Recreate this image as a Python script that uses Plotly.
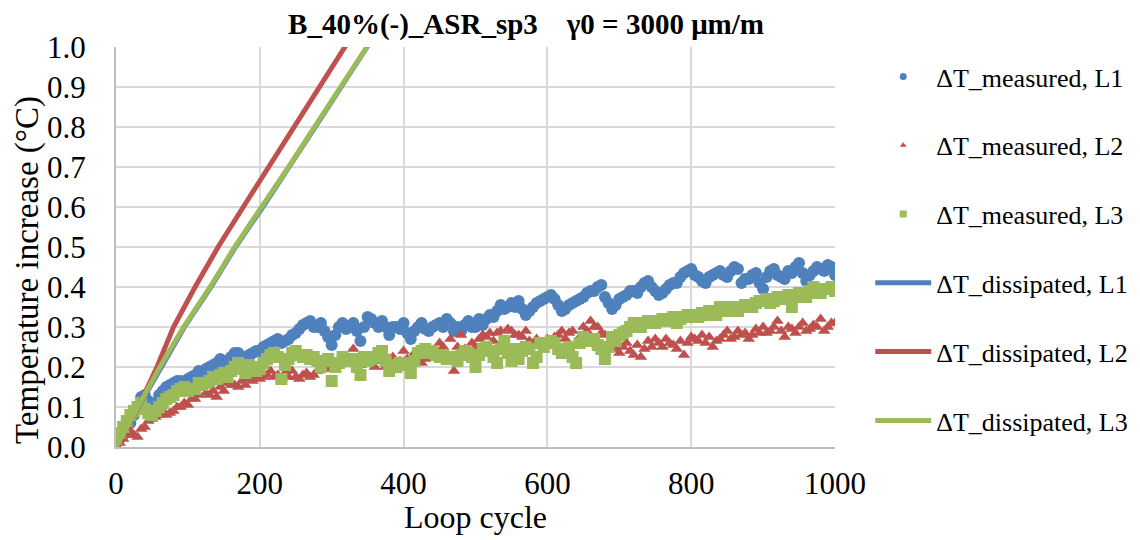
import plotly.graph_objects as go

cycles_a = list(range(0, 1001, 10))
cycles_b = list(range(5, 1000, 10))

meas_L1_a = [0.01, 0.03, 0.06, 0.10, 0.13, 0.105, 0.13, 0.15, 0.16, 0.165,
             0.17, 0.18, 0.185, 0.20, 0.21, 0.215, 0.225, 0.235, 0.225, 0.235,
             0.24, 0.255, 0.265, 0.26, 0.27, 0.285, 0.305, 0.315, 0.30, 0.29,
             0.255, 0.30, 0.295, 0.31, 0.265, 0.325, 0.31, 0.315, 0.28, 0.30,
             0.31, 0.27, 0.30, 0.295, 0.30, 0.31, 0.32, 0.29, 0.29, 0.315,
             0.30, 0.305, 0.33, 0.34, 0.345, 0.36, 0.365, 0.33, 0.35, 0.365,
             0.375, 0.37, 0.34, 0.355, 0.365, 0.375, 0.39, 0.40, 0.375, 0.345,
             0.37, 0.38, 0.39, 0.40, 0.415, 0.39, 0.385, 0.405, 0.41, 0.435,
             0.445, 0.425, 0.41, 0.43, 0.44, 0.425, 0.45, 0.41, 0.42, 0.435,
             0.395, 0.44, 0.43, 0.42, 0.435, 0.46, 0.415, 0.44, 0.445, 0.455,
             0.43]
meas_L1_b = [0.02, 0.045, 0.08, 0.125, 0.115, 0.11, 0.14, 0.155, 0.165, 0.16,
             0.175, 0.19, 0.195, 0.205, 0.22, 0.21, 0.235, 0.225, 0.23, 0.24,
             0.25, 0.26, 0.27, 0.265, 0.28, 0.295, 0.31, 0.30, 0.31, 0.275,
             0.28, 0.31, 0.30, 0.29, 0.30, 0.32, 0.30, 0.30, 0.30, 0.295,
             0.285, 0.29, 0.31, 0.29, 0.305, 0.30, 0.31, 0.30, 0.305, 0.30,
             0.32, 0.32, 0.325, 0.355, 0.35, 0.35, 0.345, 0.34, 0.36, 0.37,
             0.38, 0.355, 0.345, 0.36, 0.37, 0.385, 0.39, 0.405, 0.36, 0.355,
             0.375, 0.39, 0.385, 0.41, 0.40, 0.38, 0.395, 0.41, 0.425, 0.44,
             0.43, 0.415, 0.425, 0.435, 0.43, 0.44, 0.445, 0.42, 0.43, 0.41,
             0.425, 0.445, 0.425, 0.44, 0.45, 0.435, 0.43, 0.45, 0.44, 0.45]

meas_L2_a = [0.005, 0.02, 0.04, 0.025, 0.05, 0.07, 0.08, 0.08, 0.09, 0.10,
             0.105, 0.12, 0.16, 0.13, 0.125, 0.14, 0.155, 0.15, 0.155, 0.165,
             0.17, 0.18, 0.175, 0.17, 0.175, 0.175, 0.18, 0.175, 0.19, 0.195,
             0.20, 0.21, 0.215, 0.245, 0.205, 0.21, 0.20, 0.215, 0.22, 0.21,
             0.24, 0.215, 0.225, 0.22, 0.225, 0.26, 0.23, 0.19, 0.28, 0.245,
             0.25, 0.28, 0.285, 0.285, 0.265, 0.29, 0.28, 0.29, 0.255, 0.26,
             0.27, 0.275, 0.29, 0.285, 0.26, 0.30, 0.315, 0.30, 0.28, 0.25,
             0.235, 0.26, 0.23, 0.225, 0.265, 0.27, 0.25, 0.26, 0.245, 0.23,
             0.275, 0.265, 0.26, 0.25, 0.27, 0.29, 0.275, 0.28, 0.27, 0.295,
             0.30, 0.29, 0.315, 0.275, 0.295, 0.30, 0.29, 0.305, 0.32, 0.30,
             0.31]
meas_L2_b = [0.01, 0.03, 0.03, 0.045, 0.065, 0.075, 0.09, 0.085, 0.10, 0.11,
             0.12, 0.13, 0.135, 0.14, 0.15, 0.16, 0.155, 0.165, 0.17, 0.175,
             0.175, 0.19, 0.18, 0.185, 0.19, 0.17, 0.185, 0.18, 0.20, 0.205,
             0.195, 0.22, 0.21, 0.22, 0.215, 0.225, 0.215, 0.20, 0.225, 0.215,
             0.22, 0.235, 0.21, 0.235, 0.24, 0.25, 0.27, 0.25, 0.245, 0.26,
             0.27, 0.275, 0.265, 0.29, 0.295, 0.28, 0.275, 0.265, 0.27, 0.255,
             0.265, 0.28, 0.27, 0.29, 0.275, 0.29, 0.30, 0.285, 0.26, 0.245,
             0.25, 0.24, 0.255, 0.245, 0.25, 0.26, 0.27, 0.255, 0.265, 0.26,
             0.27, 0.28, 0.275, 0.265, 0.28, 0.27, 0.29, 0.285, 0.28, 0.285,
             0.285, 0.30, 0.29, 0.30, 0.285, 0.31, 0.295, 0.30, 0.29, 0.31]

meas_L3_a = [0.02, 0.05, 0.08, 0.10, 0.095, 0.08, 0.10, 0.12, 0.13, 0.145,
             0.14, 0.145, 0.155, 0.165, 0.17, 0.185, 0.19, 0.21, 0.185, 0.20,
             0.195, 0.22, 0.235, 0.17, 0.22, 0.24, 0.225, 0.22, 0.215, 0.215,
             0.165, 0.21, 0.22, 0.22, 0.18, 0.215, 0.225, 0.24, 0.19, 0.20,
             0.21, 0.185, 0.235, 0.245, 0.24, 0.225, 0.22, 0.225, 0.23, 0.235,
             0.20, 0.245, 0.24, 0.21, 0.265, 0.215, 0.22, 0.25, 0.21, 0.26,
             0.26, 0.26, 0.235, 0.25, 0.21, 0.275, 0.27, 0.255, 0.22, 0.275,
             0.28, 0.29, 0.31, 0.30, 0.315, 0.31, 0.32, 0.315, 0.31, 0.325,
             0.33, 0.325, 0.33, 0.335, 0.35, 0.34, 0.345, 0.35, 0.355, 0.36,
             0.365, 0.36, 0.375, 0.37, 0.35, 0.385, 0.375, 0.40, 0.385, 0.395,
             0.39]
meas_L3_b = [0.035, 0.065, 0.09, 0.11, 0.085, 0.09, 0.11, 0.125, 0.14, 0.15,
             0.145, 0.16, 0.16, 0.175, 0.18, 0.175, 0.20, 0.195, 0.205, 0.19,
             0.21, 0.23, 0.225, 0.205, 0.235, 0.23, 0.23, 0.225, 0.20, 0.22,
             0.20, 0.225, 0.215, 0.20, 0.225, 0.22, 0.235, 0.215, 0.205, 0.21,
             0.205, 0.215, 0.24, 0.235, 0.23, 0.23, 0.225, 0.215, 0.24, 0.225,
             0.23, 0.25, 0.225, 0.245, 0.235, 0.245, 0.24, 0.245, 0.225, 0.25,
             0.265, 0.245, 0.245, 0.225, 0.26, 0.265, 0.27, 0.245, 0.25, 0.265,
             0.285, 0.30, 0.305, 0.31, 0.31, 0.315, 0.32, 0.325, 0.32, 0.33,
             0.325, 0.335, 0.34, 0.33, 0.345, 0.35, 0.34, 0.355, 0.35, 0.365,
             0.37, 0.365, 0.37, 0.38, 0.375, 0.38, 0.39, 0.385, 0.395, 0.40]

diss_L1_x = [0, 32, 63, 96, 133, 167, 205, 242, 278, 314, 350, 368]
diss_L1_y = [0, 0.1, 0.2, 0.3, 0.4, 0.5, 0.6, 0.7, 0.8, 0.9, 1.0, 1.05]
diss_L2_x = [0, 31, 57, 80, 110, 142, 177, 212, 247, 282, 318, 336]
diss_L2_y = [0, 0.1, 0.2, 0.3, 0.4, 0.5, 0.6, 0.7, 0.8, 0.9, 1.0, 1.05]
diss_L3_x = [0, 31, 61, 94, 131, 165, 203, 240, 276, 312, 349, 367]
diss_L3_y = [0, 0.1, 0.2, 0.3, 0.4, 0.5, 0.6, 0.7, 0.8, 0.9, 1.0, 1.05]

BLUE = "#4F81BD"
RED = "#C0504D"
GREEN = "#9BBB59"
FONT = "Liberation Serif"

cycles = cycles_a + cycles_b

fig = go.Figure()

fig.add_trace(go.Scatter(x=cycles, y=meas_L1_a + meas_L1_b, mode="markers", showlegend=False,
                         marker=dict(symbol="circle", size=12, color=BLUE)))
fig.add_trace(go.Scatter(x=cycles, y=meas_L2_a + meas_L2_b, mode="markers", showlegend=False,
                         marker=dict(symbol="triangle-up", size=11, color=RED)))
fig.add_trace(go.Scatter(x=cycles, y=meas_L3_a + meas_L3_b, mode="markers", showlegend=False,
                         marker=dict(symbol="square", size=12, color=GREEN)))
fig.add_trace(go.Scatter(x=diss_L1_x, y=diss_L1_y, mode="lines", showlegend=False,
                         line=dict(color=BLUE, width=4)))
fig.add_trace(go.Scatter(x=diss_L2_x, y=diss_L2_y, mode="lines", showlegend=False,
                         line=dict(color=RED, width=5)))
fig.add_trace(go.Scatter(x=diss_L3_x, y=diss_L3_y, mode="lines", showlegend=False,
                         line=dict(color=GREEN, width=5)))

leg = [
    ("ΔT_measured, L1", "markers", dict(symbol="circle", size=7, color=BLUE), None),
    ("ΔT_measured, L2", "markers", dict(symbol="triangle-up", size=6, color=RED), None),
    ("ΔT_measured, L3", "markers", dict(symbol="square", size=7, color=GREEN), None),
    ("ΔT_dissipated, L1", "lines", None, dict(color=BLUE, width=5)),
    ("ΔT_dissipated, L2", "lines", None, dict(color=RED, width=5)),
    ("ΔT_dissipated, L3", "lines", None, dict(color=GREEN, width=5)),
]
for i, (name, mode, mk, ln) in enumerate(leg):
    kw = dict(x=[None], y=[None], mode=mode, name=name, legendgroup=f"g{i}", showlegend=True)
    if mk:
        kw["marker"] = mk
    if ln:
        kw["line"] = ln
    fig.add_trace(go.Scatter(**kw))

# page has an 8px body margin: figure is 1132x532, plot area lands at 116..835 / 47..447
W, H = 1132, 532
fig.update_layout(
    width=W, height=H,
    margin=dict(l=108, r=305, t=39, b=93, autoexpand=False),
    paper_bgcolor="white", plot_bgcolor="white",
    font=dict(family=FONT, color="black", size=26),
    title=dict(text="<b>B_40%(-)_ASR_sp3&nbsp;&nbsp;&nbsp;&nbsp;γ0 = 3000 μm/m</b>",
               x=518 / W, xanchor="center", y=1 - 16 / H, yanchor="middle",
               font=dict(family=FONT, size=29, color="black")),
    legend=dict(x=1.049, xanchor="left", y=0.985, yanchor="top", tracegroupgap=32,
                itemwidth=56, maxheight=600,
                font=dict(family=FONT, size=26, color="black"), bgcolor="rgba(0,0,0,0)"),
    xaxis=dict(range=[0, 1000], tickvals=[0, 200, 400, 600, 800, 1000],
               showgrid=True, gridcolor="#d9d9d9", gridwidth=2,
               showline=True, linecolor="#bfbfbf", linewidth=2, zeroline=False,
               ticks="", tickfont=dict(family=FONT, size=31), ticklabelstandoff=8),
    yaxis=dict(range=[0, 1.0], tickvals=[i / 10 for i in range(11)], tickformat=".1f",
               showgrid=True, gridcolor="#d9d9d9", gridwidth=2,
               showline=True, linecolor="#bfbfbf", linewidth=2, zeroline=False,
               ticks="", tickfont=dict(family=FONT, size=31), ticklabelstandoff=22),
    annotations=[
        dict(text="Temperature increase (°C)", textangle=-90, xref="paper", yref="paper",
             x=(27 - 116) / 719, y=1 - (270 - 47) / 400, xanchor="center", yanchor="middle",
             showarrow=False, font=dict(family=FONT, size=33, color="black")),
        dict(text="Loop cycle", xref="paper", yref="paper",
             x=0.5, y=1 - (517 - 47) / 400, xanchor="center", yanchor="middle",
             showarrow=False, font=dict(family=FONT, size=32, color="black")),
    ],
)

fig.write_html("out.html")
